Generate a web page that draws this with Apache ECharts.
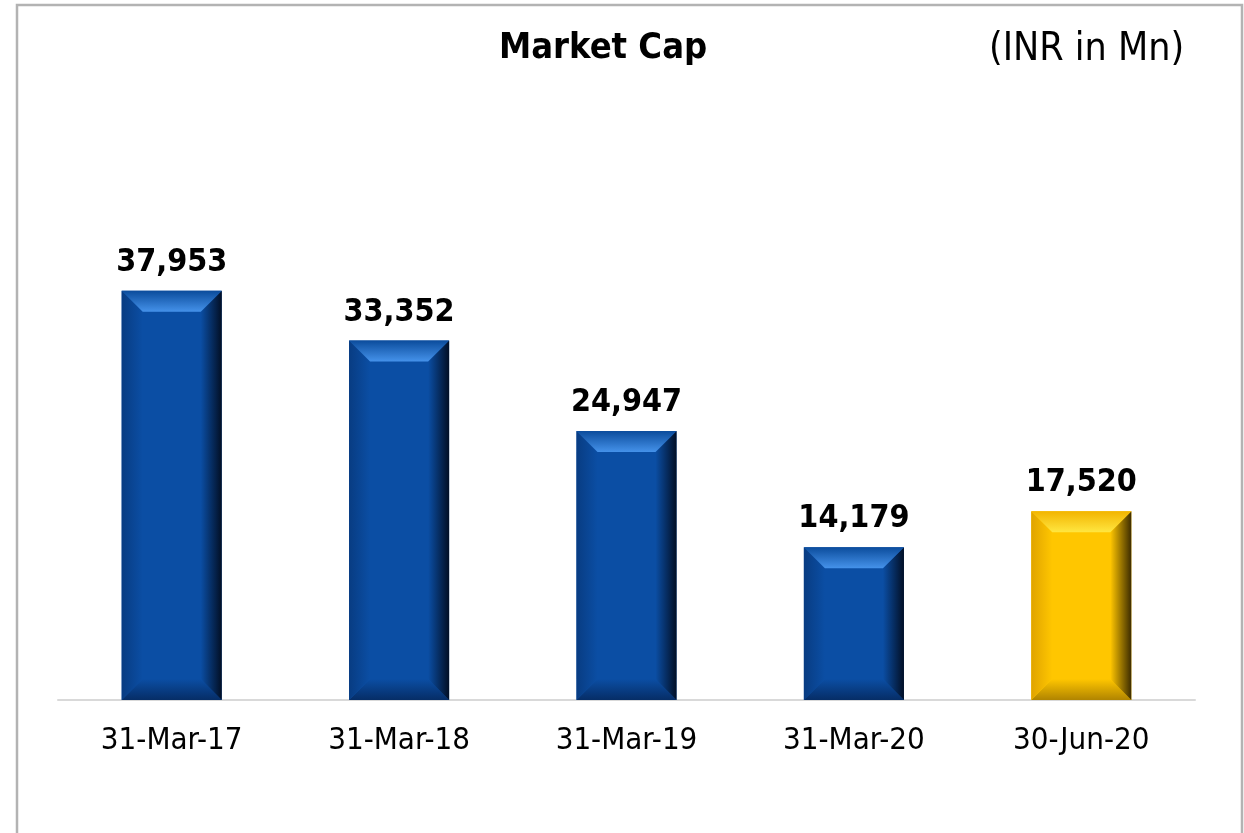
<!DOCTYPE html>
<html>
<head>
<meta charset="utf-8">
<style>
  html, body { margin: 0; padding: 0; background: #fff; }
  #chart { width: 1244px; height: 833px; }
</style>
<script src="https://cdn.jsdelivr.net/npm/echarts@6/dist/echarts.min.js"></script>
</head>
<body>
<div id="chart"></div>
<script>
(function() {
  var categories = ['31-Mar-17', '31-Mar-18', '31-Mar-19', '31-Mar-20', '30-Jun-20'];
  var marketCap = [37953, 33352, 24947, 14179, 17520];
  var highlight = [false, false, false, false, true];

  var font = '"DejaVu Sans Condensed","DejaVu Sans",Tahoma,sans-serif';

  // bevel palettes: face, top dark->light, left, right edge, bottom
  var blue = { face: '#0b4ea4', topA: '#0b4c9c', topB: '#4592ea', left: '#083c82', right: '#020f25', bottom: '#062d66' };
  var gold = { face: '#ffc600', topA: '#f2b400', topB: '#ffe640', left: '#e0a400', right: '#3d2c00', bottom: '#b08400' };

  function grad(x0, y0, x1, y1, c0, c1) {
    return new echarts.graphic.LinearGradient(x0, y0, x1, y1, [
      { offset: 0, color: c0 }, { offset: 1, color: c1 }
    ]);
  }

  function renderBar(params, api) {
    var idx = api.value(0);
    var top = api.coord([idx, api.value(1)]);
    var base = api.coord([idx, 0]);
    var w = api.size([1, 0])[0] * 0.44;
    var l = top[0] - w / 2, r = top[0] + w / 2, t = top[1], b = base[1];
    var bv = 21;
    var p = highlight[idx] ? gold : blue;
    return {
      type: 'group',
      children: [
        { type: 'rect', shape: { x: l, y: t, width: w, height: b - t }, style: { fill: p.face } },
        { type: 'polygon', shape: { points: [[l, b], [r, b], [r - bv, b - bv], [l + bv, b - bv]] },
          style: { fill: grad(0, 1, 0, 0, p.bottom, p.face) } },
        { type: 'polygon', shape: { points: [[l, t], [l, b], [l + bv, b - bv], [l + bv, t + bv]] },
          style: { fill: grad(0, 0, 1, 0, p.left, p.face) } },
        { type: 'polygon', shape: { points: [[r, t], [r, b], [r - bv, b - bv], [r - bv, t + bv]] },
          style: { fill: grad(1, 0, 0, 0, p.right, p.face) } },
        { type: 'polygon', shape: { points: [[l, t], [r, t], [r - bv, t + bv], [l + bv, t + bv]] },
          style: { fill: grad(0, 0, 0, 1, p.topA, p.topB) } }
      ]
    };
  }

  var chart = echarts.init(document.getElementById('chart'), null, { renderer: 'canvas' });

  var option = {
    animation: false,
    title: [
      { text: 'Market Cap', left: 494, top: 26,
        textStyle: { fontFamily: font, fontSize: 36, fontWeight: 'bold', color: '#000' } },
      { text: '(INR in Mn)', left: 984, top: 25,
        textStyle: { fontFamily: font, fontSize: 39, fontWeight: 'normal', color: '#000' } }
    ],
    graphic: [{
      type: 'polyline',
      shape: { points: [[17, 840], [17, 5], [1242, 5], [1242, 840]] },
      style: { stroke: '#b3b3b3', lineWidth: 2.5, fill: null }
    }],
    grid: { left: 58, right: 49, top: 161, bottom: 133 },
    xAxis: {
      type: 'category',
      data: categories,
      axisLine: { lineStyle: { color: '#d9d9d9', width: 2 } },
      axisTick: { show: false },
      axisLabel: { fontFamily: font, fontSize: 31, color: '#000', margin: 25 }
    },
    yAxis: {
      type: 'value',
      min: 0,
      max: 50000,
      show: false,
      splitLine: { show: false }
    },
    series: [
      {
        type: 'custom',
        renderItem: renderBar,
        data: marketCap.map(function(v, i) { return [i, v]; }),
        encode: { x: 0, y: 1 },
        z: 2
      },
      {
        type: 'bar',
        data: marketCap,
        barWidth: '44%',
        itemStyle: { color: 'rgba(0,0,0,0)' },
        label: {
          show: true,
          position: 'top',
          distance: 12,
          fontFamily: font,
          fontSize: 32,
          fontWeight: 'bold',
          color: '#000',
          formatter: function(p) { return p.value.toLocaleString('en-US'); }
        },
        z: 3
      }
    ]
  };

  chart.setOption(option);
  window.addEventListener('resize', function() { chart.resize(); });
})();
</script>
</body>
</html>
